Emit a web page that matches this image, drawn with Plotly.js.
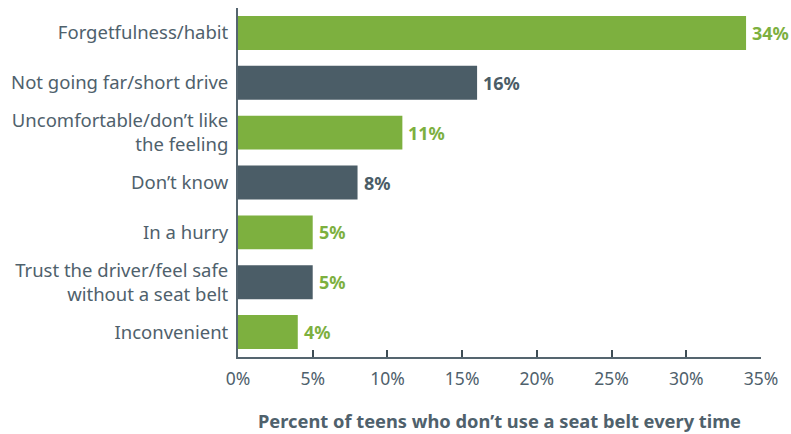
<!DOCTYPE html>
<html><head><meta charset="utf-8">
<script src="https://cdn.plot.ly/plotly-3.0.1.min.js"></script>
<style>html,body{margin:0;padding:0;background:#fff}#c{width:791px;height:434px}</style>
</head><body><div id="c"></div>
<script>
const categories = ["Forgetfulness/habit","Not going far/short drive","Uncomfortable/don’t like<br>the feeling","Don’t know","In a hurry","Trust the driver/feel safe<br>without a seat belt","Inconvenient"];
const values = [34,16,11,8,5,5,4];
const labels = ["34%","16%","11%","8%","5%","5%","4%"];
const green = "#7db03f", slate = "#4b5d67";
const barColors = [green, slate, green, slate, green, slate, green];
const labelColors = [green, slate, green, slate, green, green, green];
const tickVals = [0,5,10,15,20,25,30,35];
const tickText = ["0%","5%","10%","15%","20%","25%","30%","35%"];

const annotations = values.map((v, i) => ({
  x: v, y: categories[i], xref: "x", yref: "y",
  text: "<b>" + labels[i] + "</b>", showarrow: false,
  xanchor: "left", yanchor: "middle", xshift: 4,
  font: {family: "Noto Sans, sans-serif", size: 18, color: labelColors[i]}
}));

Plotly.newPlot("c", [{
  type: "bar", orientation: "h",
  y: categories, x: values,
  marker: {color: barColors},
  width: 0.68,
  hoverinfo: "none"
}], {
  width: 791, height: 434,
  margin: {l: 238, r: 30, t: 8, b: 77},
  paper_bgcolor: "#fff", plot_bgcolor: "#fff",
  font: {family: "Noto Sans, sans-serif", color: "#4f616c"},
  showlegend: false,
  annotations: annotations,
  xaxis: {
    range: [0, 35], tickvals: tickVals, ticktext: tickText,
    ticks: "inside", ticklen: 7, tickcolor: "#3f4d55", tickwidth: 2,
    showline: true, linecolor: "#55656f", linewidth: 2,
    showgrid: false, zeroline: false, fixedrange: true,
    tickfont: {size: 17.5, color: "#4f616c"}, ticklabelstandoff: 5,
    title: {text: "<b>Percent of teens who don’t use a seat belt every time</b>", font: {size: 18.3, color: "#4f616c"}, standoff: 26}
  },
  yaxis: {
    autorange: "reversed", showline: true, linecolor: "#55656f", linewidth: 2,
    ticks: "", showgrid: false, zeroline: false,
    tickfont: {size: 18.5, color: "#4f616c"}, ticklabelstandoff: 4
  }
}, {displayModeBar: false, staticPlot: true});
</script></body></html>
